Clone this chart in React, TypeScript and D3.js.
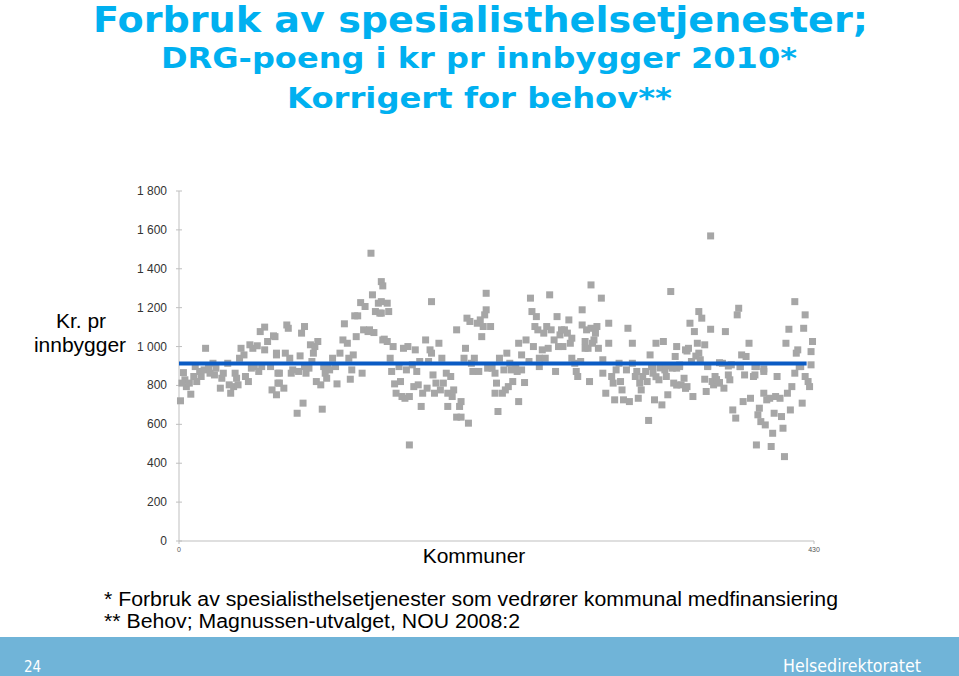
import React from "react";
import * as d3 from "d3";

const titleLines = [
  "Forbruk av spesialisthelsetjenester;",
  "DRG-poeng i kr pr innbygger 2010*",
  "Korrigert for behov**",
];
const footnotes = [
  "* Forbruk av spesialisthelsetjenester som vedrører kommunal medfinansiering",
  "** Behov; Magnussen-utvalget, NOU 2008:2",
];
const yTicks = [0, 200, 400, 600, 800, 1000, 1200, 1400, 1600, 1800];
const xTicks = [0, 430];
const meanValue = 913;
const meanRange = [0, 425];

// [kommune index, kr pr innbygger]
const points: [number, number][] = [
  [1,721],[2,812],[3,866],[4,829],[5,794],[8,755],[7,812],[10,846],[11,897],[12,820],[14,872],[15,846],[18,991],[17,880],[20,897],[21,863],[23,914],[24,854],[25,889],[28,786],[29,837],[30,863],[33,914],[34,803],[35,760],[37,794],[38,863],[39,837],[40,803],[41,940],[42,991],[44,957],[45,846],[47,820],[48,1009],[49,889],[50,991],[51,897],[53,1004],[54,872],[55,1077],[56,897],[58,1100],[58,983],[60,1026],[62,897],[63,777],[64,1055],[66,966],[67,863],[67,812],[66,752],
  [65,1051],[66,957],[68,863],[68,812],[71,786],[72,966],[73,1111],[74,1094],[75,940],[76,863],[77,880],[80,657],[81,872],[82,952],[83,1069],[84,709],[85,1103],[85,897],[86,863],[88,889],[89,1009],[90,923],[91,966],[92,1000],[93,820],[94,1026],[96,803],[97,678],[98,897],[99,863],[100,837],[101,897],[102,880],[104,940],[106,897],[107,808],[109,966],[111,1034],[112,1117],[114,1017],[115,940],[116,832],[117,880],[118,957],[119,1158],[120,1051],[121,1158],[123,1226],[124,863],[125,1086],[126,1206],[128,1077],[129,1086],[130,1480],[131,1266],[132,1072],[133,1180],[135,1223],[136,1172],[137,1334],[138,1312],[138,1034],
  [137,1231],[137,1172],[141,1223],[142,1180],[139,1038],[141,1026],[145,1000],[143,940],[144,872],[146,808],[147,760],[149,897],[150,820],[151,743],[152,991],[153,734],[154,880],[155,1000],[156,494],[156,743],[158,906],[159,794],[160,983],[161,872],[162,803],[163,923],[164,692],[165,760],[167,1034],[168,786],[169,923],[170,983],[171,1231],[171,966],[172,854],[173,760],[174,812],[176,1017],[177,777],[178,940],[179,812],[181,863],[182,760],[182,692],[184,846],[185,743],[186,777],[188,637],[188,1086],[190,692],[191,637],[191,717],[193,940],[194,991],[195,1146],[196,606],[197,1129],[198,914],[199,872],[200,940],[202,1120],[203,872],[204,1137],[205,1051],[206,1103],[207,1163],[208,1274],[208,1189],[209,889],
  [211,1103],[210,897],[212,889],[214,863],[215,812],[214,760],[216,666],[217,940],[219,760],[220,880],[221,777],[222,966],[223,794],[224,914],[225,880],[226,820],[228,897],[229,872],[230,717],[230,1017],[232,957],[232,880],[234,815],[235,1034],[237,923],[238,1249],[239,1180],[240,1000],[241,1103],[242,1154],[243,1086],[244,940],[244,897],[246,983],[247,1069],[248,940],[249,1103],[250,991],[251,1266],[252,1086],[254,1034],[255,872],[256,1154],[257,1000],[258,1060],[259,1086],[260,1000],[261,1086],[263,1069],[264,1137],[265,1017],[266,940],[266,1043],[268,914],[269,872],[270,846],[272,923],[273,1189],[273,1111],[275,1026],[275,991],[276,1086],[277,991],[278,820],[279,1317],[280,1017],
  [279,1094],[281,1034],[282,1069],[283,1103],[284,991],[286,1249],[287,932],[287,863],[289,760],[291,1017],[291,1120],[293,846],[294,812],[295,726],[296,880],[298,914],[299,820],[300,777],[301,726],[303,880],[304,1094],[305,717],[307,914],[307,1017],[309,846],[310,872],[311,734],[312,812],[313,777],[314,846],[316,872],[317,820],[318,620],[319,957],[320,897],[321,863],[322,726],[323,1017],[325,829],[326,897],[327,700],[328,1026],[329,880],[330,846],[331,752],[333,1283],[334,889],[335,812],[336,949],[337,1000],[337,889],[339,897],[340,803],[342,837],[343,983],[344,794],[345,991],[346,1120],[347,923],[348,743],[349,1077],[351,1017],[352,1180],[352,966],
  [321,897],[323,845],[326,890],[330,900],[335,895],[337,802],[339,905],[343,785],[344,977],[350,951],
  [360,1569],[354,1146],[356,1009],[353,932],[358,897],[360,1089],[356,832],[357,769],[362,803],[363,846],[365,812],[368,914],[369,786],[370,1077],[372,854],[373,829],[374,906],[375,674],[377,632],[378,1163],[379,1197],[380,897],[381,957],[382,717],[383,854],[384,949],[386,1017],[387,734],[389,846],[391,897],[391,494],[392,649],[393,683],[394,614],[396,872],[396,760],[397,597],[398,726],[400,734],[401,486],[402,554],[403,657],[404,743],[405,846],[407,734],[408,640],[409,580],[410,434],[411,1017],[412,760],[413,1089],[414,674],[415,794],[417,863],[417,1231],[418,966],[419,983],[421,897],[422,709],[423,1094],[424,1163],[424,846],[426,820],[427,794],[428,974],[428,906],[429,1026],
  [358,900],[361,820],[364,830],[366,815],[366,917],[372,900],[380,897],[390,854],[390,897],[396,885],[420,897],
];

const W = 959;
const H = 676;

export default function App() {
  const x = d3.scaleLinear().domain([0, 430]).range([179, 814]);
  const y = d3.scaleLinear().domain([0, 1800]).range([541, 191]);
  const fmt = (v: number) => d3.format(",")(v).replace(/,/g, " ");
  const sq = 7;
  return (
    <svg width={W} height={H} style={{ position: "absolute", left: 0, top: 0 }} xmlns="http://www.w3.org/2000/svg">
      <rect x={0} y={0} width={W} height={H} fill="#ffffff" />
      {/* Title */}
      <g fill="#00b0f0" fontFamily="'DejaVu Sans', Verdana, sans-serif" fontWeight="bold" textAnchor="start">
        <text x={93} y={32} fontSize={35} textLength={775} lengthAdjust="spacingAndGlyphs">{titleLines[0]}</text>
        <text x={161} y={68} fontSize={28} textLength={636} lengthAdjust="spacingAndGlyphs">{titleLines[1]}</text>
        <text x={287} y={108} fontSize={28} textLength={385} lengthAdjust="spacingAndGlyphs">{titleLines[2]}</text>
      </g>

      {/* Axes */}
      <line x1={x(0)} x2={x(0)} y1={y(1800)} y2={y(0)} stroke="#bfbfbf" strokeWidth={1} />
      <line x1={x(0)} x2={x(430)} y1={y(0)} y2={y(0)} stroke="#bfbfbf" strokeWidth={1} />
      {yTicks.map((t) => (
        <g key={t}>
          <line x1={x(0) - 3} x2={x(0) + 3} y1={y(t)} y2={y(t)} stroke="#bfbfbf" strokeWidth={1} />
          <text x={167} y={y(t) + 4} fontSize={12} textAnchor="end" fill="#333" fontFamily="'Liberation Sans', Arial">{fmt(t)}</text>
        </g>
      ))}
      {xTicks.map((t) => (
        <g key={t}>
          <line x1={x(t)} x2={x(t)} y1={y(0)} y2={y(0) + 3} stroke="#bfbfbf" strokeWidth={1} />
          <text x={x(t)} y={y(0) + 11} fontSize={7} textAnchor="middle" fill="#555" fontFamily="'Liberation Sans', Arial">{t}</text>
        </g>
      ))}

      {/* Points */}
      <g fill="#a6a6a6">
        {points.map(([i, v], k) => (
          <rect key={k} x={x(i) - sq / 2} y={y(v) - sq / 2} width={sq} height={sq} />
        ))}
      </g>

      {/* Mean line */}
      <line x1={x(meanRange[0])} x2={x(meanRange[1])} y1={y(meanValue)} y2={y(meanValue)} stroke="#0a5bc4" strokeWidth={4} />

      {/* Axis titles */}
      <g fontFamily="'Liberation Sans', Arial" fill="#000" fontSize={21} textAnchor="middle">
        <text x={81} y={328}>Kr. pr</text>
        <text x={80} y={352}>innbygger</text>
        <text x={474} y={563}>Kommuner</text>
      </g>

      {/* Footnotes */}
      <g fontFamily="'Liberation Sans', Arial" fill="#000" fontSize={19.5}>
        <text x={104} y={606} textLength={734} lengthAdjust="spacingAndGlyphs">{footnotes[0]}</text>
        <text x={104} y={628} textLength={416} lengthAdjust="spacingAndGlyphs">{footnotes[1]}</text>
      </g>

      {/* Bottom bar */}
      <rect x={0} y={637} width={W} height={H - 637} fill="#70b4d8" />
      <text x={24} y={672} fontSize={15} fill="#ffffff" fontFamily="'DejaVu Sans Condensed', 'DejaVu Sans'">24</text>
      <text x={921} y={672} fontSize={17} fill="#ffffff" textAnchor="end" textLength={138} lengthAdjust="spacingAndGlyphs" fontFamily="'DejaVu Sans Condensed', 'DejaVu Sans'">Helsedirektoratet</text>
    </svg>
  );
}
